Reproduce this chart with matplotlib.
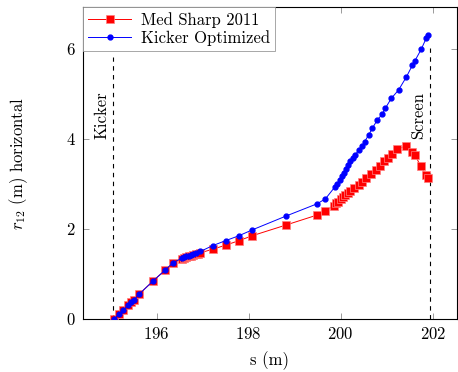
import matplotlib
matplotlib.use("Agg")
import matplotlib.pyplot as plt

plt.rcParams['font.family'] = ['cmr10', 'DejaVu Serif']
plt.rcParams['mathtext.fontset'] = 'cm'
plt.rcParams['axes.formatter.use_mathtext'] = True

# Med Sharp 2011
s_med = [195.07, 195.18, 195.28, 195.38, 195.45, 195.50, 195.62, 195.93, 196.18, 196.36,
         196.55, 196.60, 196.65, 196.70, 196.75, 196.80, 196.85, 196.90, 196.95,
         197.22, 197.50, 197.79, 198.08, 198.82, 199.49, 199.67,
         199.85, 199.90, 199.95, 200.00, 200.05, 200.10, 200.15, 200.21, 200.30, 200.39,
         200.47, 200.56, 200.66, 200.76, 200.85, 200.94, 201.03, 201.12, 201.22, 201.43,
         201.56, 201.62, 201.74, 201.85, 201.90]
r_med = [0.00, 0.10, 0.20, 0.30, 0.38, 0.42, 0.55, 0.85, 1.08, 1.25,
         1.33, 1.35, 1.37, 1.39, 1.41, 1.42, 1.44, 1.45, 1.47,
         1.55, 1.64, 1.74, 1.85, 2.09, 2.31, 2.39,
         2.52, 2.57, 2.61, 2.66, 2.70, 2.75, 2.79, 2.84, 2.92, 2.98,
         3.05, 3.13, 3.22, 3.31, 3.41, 3.50, 3.58, 3.67, 3.77, 3.85,
         3.72, 3.64, 3.39, 3.21, 3.13]

# Kicker Optimized
s_opt = [195.07, 195.18, 195.28, 195.38, 195.45, 195.50, 195.62, 195.93, 196.18, 196.36,
         196.55, 196.60, 196.65, 196.70, 196.75, 196.80, 196.85, 196.95,
         197.22, 197.50, 197.79, 198.08, 198.82, 199.49, 199.67,
         199.88, 199.92, 199.98, 200.03, 200.07, 200.12, 200.17, 200.21, 200.27, 200.32,
         200.39, 200.47, 200.52, 200.61, 200.69, 200.79, 200.90, 200.97, 201.10, 201.26,
         201.43, 201.56, 201.61, 201.75, 201.86, 201.90]
r_opt = [0.00, 0.10, 0.20, 0.30, 0.38, 0.42, 0.55, 0.85, 1.08, 1.25,
         1.35, 1.37, 1.39, 1.41, 1.43, 1.45, 1.47, 1.50,
         1.63, 1.74, 1.85, 1.98, 2.29, 2.56, 2.67,
         2.94, 2.99, 3.09, 3.18, 3.24, 3.33, 3.42, 3.50, 3.57, 3.64,
         3.76, 3.84, 3.94, 4.09, 4.24, 4.41, 4.55, 4.68, 4.90, 5.09,
         5.38, 5.64, 5.73, 5.99, 6.24, 6.31]

kicker_s = 195.05
screen_s = 201.94
kicker_top = 5.82
screen_top = 6.01
x_ticks = [196, 198, 200, 202]
y_ticks = [0, 2, 4, 6]

fs = 12

fig = plt.figure(figsize=(4.58, 3.72), dpi=100)
ax = fig.add_axes([0.181, 0.1425, 0.817, 0.8385])

ax.plot(s_med, r_med, color='red', marker='s', markersize=5.5, linewidth=0.7,
        markeredgecolor='#ff8080', markeredgewidth=0.5,
        label='Med Sharp 2011', zorder=3)
ax.plot(s_opt, r_opt, color='blue', marker='o', markersize=3.5, linewidth=0.7,
        label='Kicker Optimized', zorder=4)

ax.plot([kicker_s, kicker_s], [0, kicker_top], color='black', linestyle=(0, (4, 4)), linewidth=0.8)
ax.plot([screen_s, screen_s], [0, screen_top], color='black', linestyle=(0, (4, 4)), linewidth=0.8)
ax.text(kicker_s - 0.08, 4.53, 'Kicker', rotation=90, ha='right', va='center', fontsize=fs)
ax.text(screen_s - 0.08, 4.53, 'Screen', rotation=90, ha='right', va='center', fontsize=fs)

ax.set_xlim(194.4, 202.53)
ax.set_ylim(0, 6.93)
ax.set_xticks(x_ticks)
ax.set_yticks(y_ticks)
ax.tick_params(direction='in', top=True, right=True, length=4, width=0.5,
               color='0.45', labelsize=fs, pad=5)
for sp in ax.spines.values():
    sp.set_linewidth(0.8)

ax.set_xlabel('s (m)', fontsize=fs, labelpad=7)
ax.set_ylabel(r'$r_{12}$ (m) horizontal', fontsize=fs, labelpad=26)

leg = ax.legend(loc='upper left', borderaxespad=0, fontsize=fs, fancybox=False,
                edgecolor='0.6', framealpha=1, handlelength=2.6, borderpad=0.3,
                labelspacing=0.15, handletextpad=0.6)
leg.get_frame().set_linewidth(0.6)

fig.savefig('out.png', dpi=100)
